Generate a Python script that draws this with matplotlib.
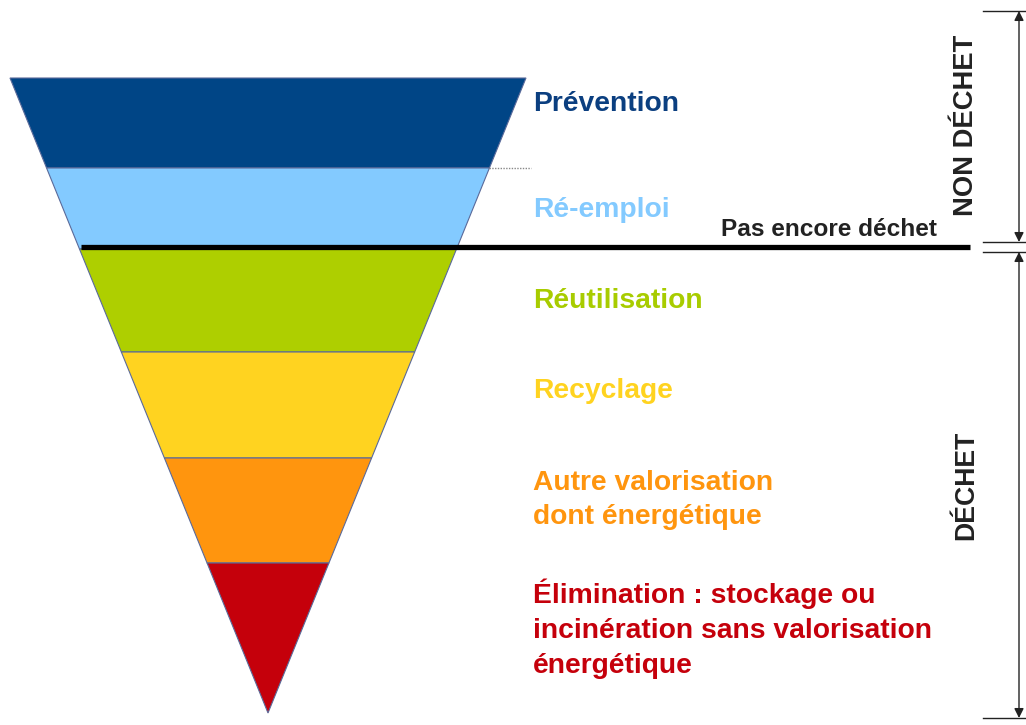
import matplotlib
matplotlib.use("Agg")
import matplotlib.pyplot as plt
from matplotlib.patches import Polygon

# ---- data ----
levels = ["Prévention", "Ré-emploi", "Réutilisation", "Recyclage",
          "Autre valorisation\ndont énergétique",
          "Élimination : stockage ou\nincinération sans valorisation\nénergétique"]
band_colors = ["#004586", "#83CAFF", "#AECF00", "#FFD320", "#FF950E", "#C5000B"]
text_colors = ["#0B3F80", "#83CAFF", "#A8CC00", "#FFD320", "#FF950E", "#C5000B"]
# band boundaries (pixel rows, top to bottom)
band_edges = [78, 168, 249, 352, 458, 563, 713]
label_y = [104, 210, 301, 391, 500, 629]
threshold_label = "Pas encore déchet"
side_labels = ["NON DÉCHET", "DÉCHET"]

W, H = 1026, 725
fig = plt.figure(figsize=(W / 100, H / 100), dpi=100)
ax = fig.add_axes([0, 0, 1, 1])
ax.set_xlim(0, W)
ax.set_ylim(H, 0)
ax.axis("off")

top_y, apex_y = band_edges[0], band_edges[-1]
x_left_top, x_right_top, apex_x = 10, 526, 268


def xl(y):
    return x_left_top + (apex_x - x_left_top) * (y - top_y) / (apex_y - top_y)


def xr(y):
    return x_right_top + (apex_x - x_right_top) * (y - top_y) / (apex_y - top_y)


for i, col in enumerate(band_colors):
    y0, y1 = band_edges[i], band_edges[i + 1]
    pts = [(xl(y0), y0), (xr(y0), y0), (xr(y1), y1), (xl(y1), y1)]
    ax.add_patch(Polygon(pts, closed=True, facecolor=col,
                         edgecolor="#5a6a9a", linewidth=0.8, zorder=2))

font = "Liberation Sans"
for lab, y, c in zip(levels, label_y, text_colors):
    ax.text(533, y, lab, color=c, fontsize=20.3, fontweight="bold",
            family=font, ha="left", va="center", linespacing=1.44, zorder=3)

# dotted separator between Prévention and Ré-emploi
ax.plot([xr(band_edges[1]), 531], [band_edges[1], band_edges[1]],
        color="#888888", linestyle=(0, (1, 1)), linewidth=1, zorder=3)

# black threshold line
ax.plot([xl(247) + 2, 970], [247, 247], color="black", linewidth=3.8,
        solid_capstyle="butt", zorder=4)
ax.text(937, 229, threshold_label, color="#222222", fontsize=17.6,
        fontweight="bold", family=font, ha="right", va="center", zorder=3)

# right-side brackets
for y in [11, 242, 252, 718]:
    ax.plot([983, 1026], [y, y], color="#222222", linewidth=1, zorder=3)
for (y0, y1) in [(11, 242), (252, 718)]:
    ax.annotate("", xy=(1019, y0), xytext=(1019, y1),
                arrowprops=dict(arrowstyle="<|-|>", color="#222222", lw=1,
                                mutation_scale=14, shrinkA=0, shrinkB=0))
ax.text(966, 125, side_labels[0], rotation=90, fontsize=19.7, fontweight="bold",
        family=font, color="#222222", ha="center", va="center")
ax.text(966, 485, side_labels[1], rotation=90, fontsize=19.2, fontweight="bold",
        family=font, color="#222222", ha="center", va="center")

fig.savefig("out.png", dpi=100)
